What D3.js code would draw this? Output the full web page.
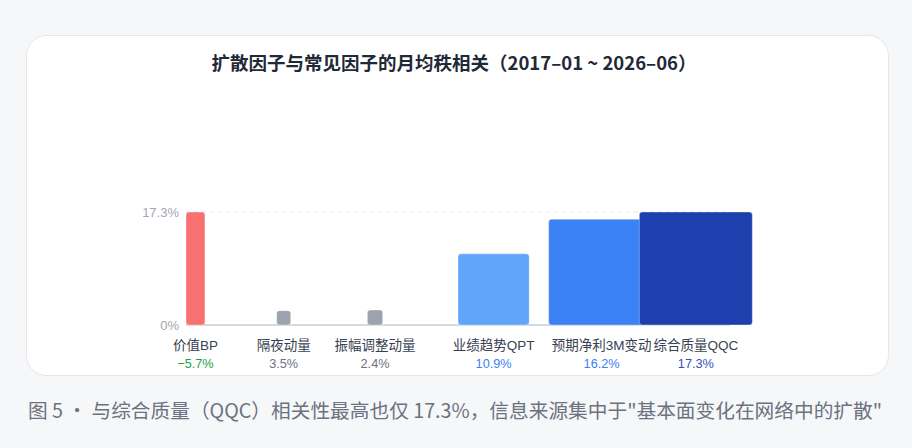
<!DOCTYPE html>
<html>
<head>
<meta charset="utf-8">
<script src="https://cdn.jsdelivr.net/npm/d3@7"></script>
<style>
  html, body { margin: 0; padding: 0; background: #f6f7f9; }
  svg { display: block; }
  text { font-family: "Liberation Sans", "Noto Sans CJK SC", sans-serif; }
</style>
</head>
<body>
<div id="chart"></div>
<script>
// Factor names and the rank correlation printed under each bar (%)
const factors = ["价值BP", "隔夜动量", "振幅调整动量", "业绩趋势QPT", "预期净利3M变动", "综合质量QQC"];
const rho = [-5.7, 3.5, 2.4, 10.9, 16.2, 17.3];
// Bar extents as drawn in the picture (% units, height and width)
const barHeight = [17.3, 2.2, 2.3, 10.9, 16.2, 17.3];
const barWidth = [2.9, 2.15, 2.35, 10.9, 16.2, 17.3];
const barColors = ["#f87171", "#9ca3af", "#9ca3af", "#60a5fa", "#3b82f6", "#1e40af"];
const valueColors = ["#16a34a", "#6b7280", "#6b7280", "#3b82f6", "#3b82f6", "#3550b8"];
const yTicks = [0, 17.3];

const width = 912, height = 448;

let svg = d3.select("#chart")
    .append("svg")
    .attr("width", width)
    .attr("height", height);

// card
svg.append("rect")
    .attr("x", 26.5).attr("y", 35.5)
    .attr("width", 862).attr("height", 340)
    .attr("rx", 20)
    .attr("fill", "#ffffff")
    .attr("stroke", "#e4e6ea");

svg.append("text")
    .attr("x", 454).attr("y", 70)
    .attr("text-anchor", "middle")
    .attr("font-size", 18.5)
    .attr("font-weight", 700)
    .attr("fill", "#1f2937")
    .style("font-family", "'Noto Sans CJK SC', sans-serif")
    .text("扩散因子与常见因子的月均秩相关（2017–01 ~ 2026–06）");

let x = d3.scaleBand().domain(factors).range([186, 730]).padding(0);
let y = d3.scaleLinear().domain([0, 17.3]).range([325, 212]);
const len = v => y(0) - y(v);

// dashed top guide + baseline
svg.append("line")
    .attr("x1", 186).attr("x2", 730)
    .attr("y1", y(17.3)).attr("y2", y(17.3))
    .attr("stroke", "#e5e7eb")
    .attr("stroke-dasharray", "4,4");

svg.append("line")
    .attr("x1", 186).attr("x2", 730)
    .attr("y1", y(0)).attr("y2", y(0))
    .attr("stroke", "#d6d9de")
    .attr("stroke-width", 2);

svg.selectAll(".tick-label")
    .data(yTicks)
    .join("text")
    .attr("class", "tick-label")
    .attr("x", 179)
    .attr("y", d => y(d))
    .attr("dy", "0.35em")
    .attr("text-anchor", "end")
    .attr("font-size", 13)
    .attr("fill", "#a1a7b0")
    .text(d => d === 0 ? "0%" : d3.format(".1f")(d) + "%");

svg.selectAll(".bar")
    .data(factors)
    .join("rect")
    .attr("class", "bar")
    .attr("x", d => x(d))
    .attr("y", (d, i) => y(barHeight[i]))
    .attr("width", (d, i) => len(barWidth[i]))
    .attr("height", (d, i) => len(barHeight[i]))
    .attr("rx", 3)
    .attr("fill", (d, i) => barColors[i])
    .attr("stroke", "rgba(255,255,255,0.35)")
    .attr("stroke-width", 1);

const cx = (d, i) => x(d) + len(barWidth[i]) / 2;

svg.selectAll(".cat-label")
    .data(factors)
    .join("text")
    .attr("class", "cat-label")
    .attr("x", cx)
    .attr("y", 350)
    .attr("text-anchor", "middle")
    .attr("font-size", 13.5)
    .attr("fill", "#374151")
    .text(d => d);

svg.selectAll(".val-label")
    .data(factors)
    .join("text")
    .attr("class", "val-label")
    .attr("x", cx)
    .attr("y", 367.5)
    .attr("text-anchor", "middle")
    .attr("font-size", 12.7)
    .attr("fill", (d, i) => valueColors[i])
    .text((d, i) => (rho[i] < 0 ? "−" : "") + d3.format(".1f")(Math.abs(rho[i])) + "%");

svg.append("text")
    .attr("x", 455).attr("y", 418)
    .attr("text-anchor", "middle")
    .attr("font-size", 19.7)
    .attr("fill", "#6b7280")
    .style("font-family", "'Noto Sans CJK SC', sans-serif")
    .text("图 5 · 与综合质量（QQC）相关性最高也仅 17.3%，信息来源集中于\"基本面变化在网络中的扩散\"");
</script>
</body>
</html>
